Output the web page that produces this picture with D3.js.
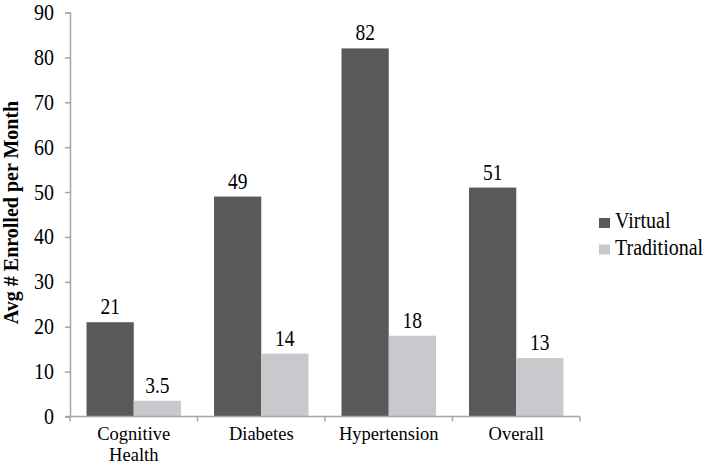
<!DOCTYPE html>
<html><head><meta charset="utf-8">
<script src="https://cdn.jsdelivr.net/npm/d3@7"></script>
<style>body{margin:0;background:#fff}svg{display:block}svg text{font-family:"Liberation Serif","Tinos","Times New Roman","DejaVu Serif",serif}</style>
</head><body><svg id="c" width="705" height="465"></svg>
<script>
const categories = [["Cognitive","Health"],["Diabetes"],["Hypertension"],["Overall"]];
const seriesNames = ["Virtual","Traditional"];
const virtualVals = [21,49,82,51];
const traditionalVals = [3.5,14,18,13];
const valueLabels = [["21","49","82","51"],["3.5","14","18","13"]];
const yTicks = [0,10,20,30,40,50,60,70,80,90];
const colors = ["#595959","#c8c9cc"];

const svg = d3.select("#c");
const x0 = 70, x1 = 580, yTop = 12.5, yBot = 416.5;
const SY = 1.15; // vertical stretch of glyphs in the reference
const x = d3.scaleBand().domain(d3.range(categories.length)).range([x0,x1]).paddingInner(0).paddingOuter(0);
const y = d3.scaleLinear().domain([0,90]).range([yBot,yTop]);
const xs = d3.scaleBand().domain([0,1]).range([0,x.bandwidth()]).paddingInner(0).paddingOuter(0.35);
const axisColor = "#a6a6a6";

function txt(px, py, str, opts={}) {
  const sy = opts.sy !== undefined ? opts.sy : SY;
  const t = svg.append("text")
    .attr("transform", `translate(${px},${py})${opts.rotate?` rotate(${opts.rotate})`:""} scale(1,${sy})`)
    .attr("text-anchor", opts.anchor || "middle")
    .attr("font-size", opts.size || 20)
    .attr("fill", "#000")
    .text(str);
  if (opts.bold) t.attr("font-weight","bold");
  return t;
}

// y axis
const ya = svg.append("g").attr("transform",`translate(${x0},0)`).call(d3.axisLeft(y).tickValues(yTicks).tickSize(5).tickSizeOuter(5).tickFormat(""));
ya.select(".domain").attr("stroke",axisColor).attr("stroke-width",1.5);
ya.selectAll(".tick line").attr("stroke",axisColor).attr("stroke-width",1.5);
yTicks.forEach(v => txt(x0-16, y(v)+7.5, String(v), {anchor:"end", size:20}));

// bars
const data = [virtualVals, traditionalVals];
data.forEach((vals,s)=>{
  svg.append("g").selectAll("rect").data(vals).join("rect")
    .attr("x",(d,i)=>x(i)+xs(s)).attr("width",xs.bandwidth())
    .attr("y",d=>y(d)).attr("height",d=>yBot-y(d)).attr("fill",colors[s]);
  vals.forEach((d,i)=>txt(x(i)+xs(s)+xs.bandwidth()/2, y(d)-8, valueLabels[s][i], {size:19.5}));
});

// x axis
const xa = svg.append("g").attr("transform",`translate(0,${yBot})`);
xa.append("line").attr("x1",x0-4).attr("x2",x1).attr("stroke",axisColor).attr("stroke-width",1.5);
d3.range(categories.length+1).forEach(i=>{
  const xx = x0 + i*x.bandwidth();
  xa.append("line").attr("x1",xx).attr("x2",xx).attr("y1",0).attr("y2",5).attr("stroke",axisColor).attr("stroke-width",1.5);
});
categories.forEach((lines,i)=>{
  lines.forEach((l,j)=>txt(x(i)+x.bandwidth()/2, 440+j*20.5, l, {size:18.5, sy:1}));
});

// y title
txt(18, 212.5, "Avg # Enrolled per Month", {rotate:-90, size:20, bold:true, sy:1});

// legend
seriesNames.forEach((n,i)=>{
  const ly = 228 + i*26.5;
  svg.append("rect").attr("x",599).attr("y",ly-10).attr("width",11).attr("height",10).attr("fill",colors[i]);
  txt(615, ly, n, {anchor:"start", size:20});
});
</script></body></html>
